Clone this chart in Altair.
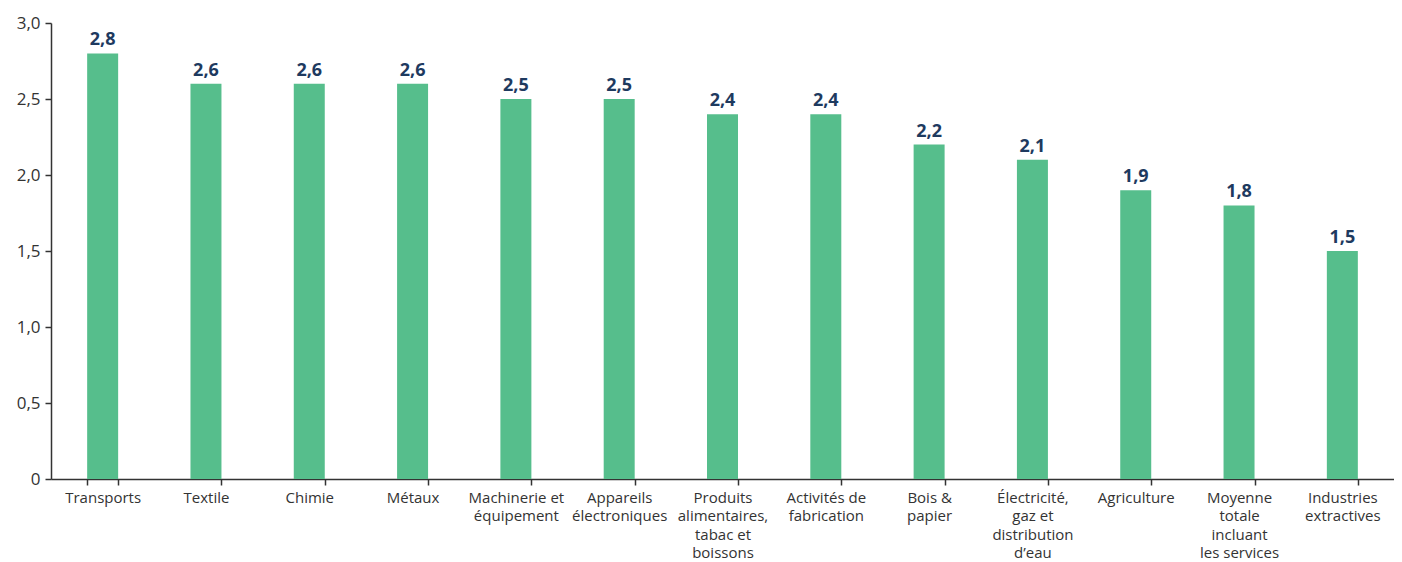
import altair as alt
import pandas as pd

categories = [
    "Transports", "Textile", "Chimie", "Métaux",
    "Machinerie et\néquipement", "Appareils\nélectroniques",
    "Produits\nalimentaires,\ntabac et\nboissons", "Activités de\nfabrication",
    "Bois &\npapier", "Électricité,\ngaz et\ndistribution\nd’eau",
    "Agriculture", "Moyenne\ntotale\nincluant\nles services",
    "Industries\nextractives",
]
values = [2.8, 2.6, 2.6, 2.6, 2.5, 2.5, 2.4, 2.4, 2.2, 2.1, 1.9, 1.8, 1.5]

df = pd.DataFrame({"cat": categories, "val": values})

FONT = "Open Sans"
AXIS_COLOR = "#333333"

base = alt.Chart(df).transform_calculate(
    lab="replace(format(datum.val, '.1f'), '.', ',')"
)

x = alt.X(
    "cat:N", sort=None, title=None,
    scale=alt.Scale(paddingInner=0.7, paddingOuter=0.35),
    axis=alt.Axis(labelAngle=0, labelExpr="split(datum.label, '\\n')"),
)
y = alt.Y(
    "val:Q", title=None,
    scale=alt.Scale(domain=[0, 3]),
    axis=alt.Axis(
        values=[0, 0.5, 1, 1.5, 2, 2.5, 3], grid=False,
        labelExpr="datum.value == 0 ? '0' : replace(format(datum.value, '.1f'), '.', ',')",
    ),
)

bars = base.mark_bar(color="#56BE8C").encode(x=x, y=y)
texts = base.mark_text(
    baseline="bottom", dy=-4, font=FONT, fontSize=18, fontWeight="bold",
    color="#1E3A5F",
).encode(x=x, y=y, text="lab:N")

chart = (bars + texts).properties(
    width=1343, height=456,
    background="white",
    autosize=alt.AutoSizeParams(type="none"),
    padding={"left": 43, "top": 15, "right": 0, "bottom": 90},
).configure_view(stroke=None).configure_axis(
    labelFont=FONT, labelColor=AXIS_COLOR, tickColor=AXIS_COLOR, tickWidth=1.5,
    tickSize=6, domainColor=AXIS_COLOR, domainWidth=1.5, grid=False, ticks=True,
).configure_axisX(
    labelFontSize=15, labelLineHeight=18.5, labelPadding=5, labelBaseline="top",
    tickBand="extent", labelLimit=200,
).configure_axisY(
    labelFontSize=17, labelPadding=5,
)

chart.save("out.html", embed_options={"renderer": "svg", "actions": False})
